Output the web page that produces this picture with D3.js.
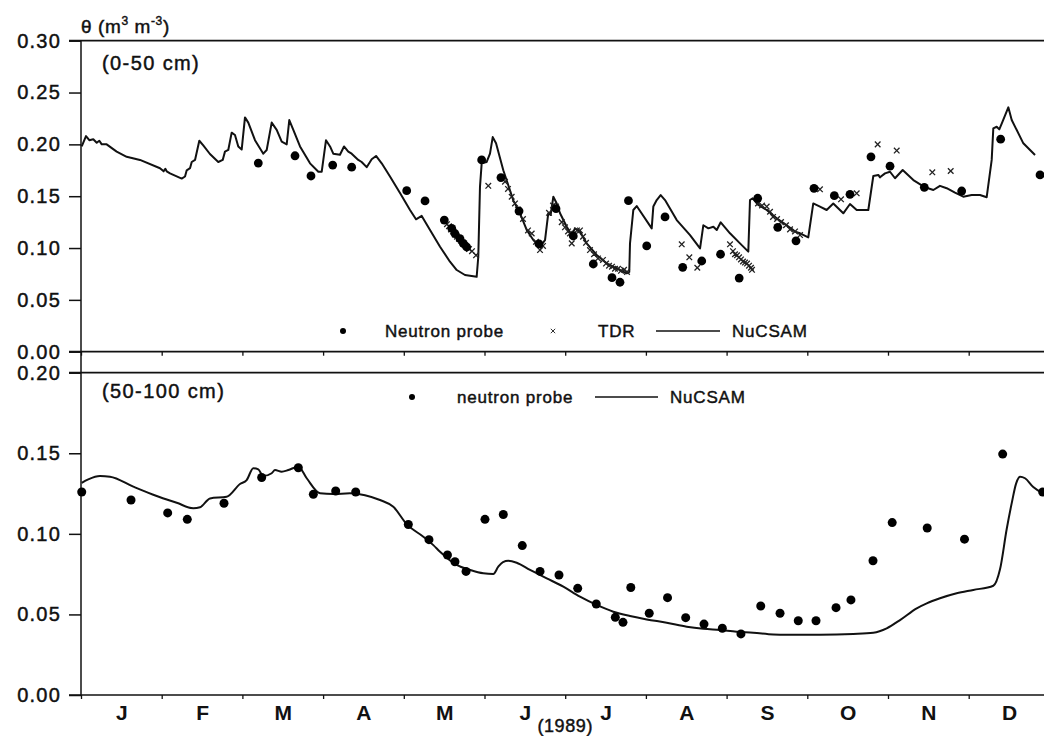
<!DOCTYPE html>
<html>
<head>
<meta charset="utf-8">
<script src="https://cdn.jsdelivr.net/npm/d3@7"></script>
<style>
  body { margin: 0; background: #fff; }
  svg { font-family: "Liberation Sans", Arial, sans-serif; }
</style>
</head>
<body>
<script>
/* CONSTANTS AND GLOBALS */
const width = 1044,
  height = 736;

// x is expressed in months since 1 Jan 1989 (0 = start of Jan, 12 = end of Dec)
const months = ["J", "F", "M", "A", "M", "J", "J", "A", "S", "O", "N", "D"];
const topTicks = [0, 0.05, 0.10, 0.15, 0.20, 0.25, 0.30];
const bottomTicks = [0, 0.05, 0.10, 0.15, 0.20];

/* 0-50 cm layer */
const topModel = [
  [0.009, 0.198], [0.062, 0.208], [0.103, 0.204], [0.152, 0.205], [0.195, 0.2016], [0.227, 0.2035],
  [0.257, 0.200], [0.318, 0.200], [0.442, 0.193], [0.566, 0.188], [0.731, 0.185], [0.979, 0.177],
  [1.024, 0.174], [1.045, 0.1765], [1.062, 0.174], [1.103, 0.172], [1.248, 0.167], [1.289, 0.169],
  [1.31, 0.175], [1.351, 0.177], [1.372, 0.183], [1.413, 0.185], [1.466, 0.2035], [1.515, 0.199],
  [1.598, 0.1907], [1.701, 0.183], [1.756, 0.185], [1.784, 0.193], [1.825, 0.1946], [1.867, 0.2113],
  [1.908, 0.209], [1.949, 0.198], [1.991, 0.195], [2.032, 0.226], [2.073, 0.221], [2.156, 0.204],
  [2.259, 0.191], [2.301, 0.1946], [2.363, 0.221], [2.425, 0.214], [2.487, 0.2026], [2.549, 0.200],
  [2.581, 0.2235], [2.631, 0.214], [2.714, 0.198], [2.838, 0.1817], [2.941, 0.1736], [2.983, 0.1736],
  [3.036, 0.204], [3.086, 0.198], [3.126, 0.191], [3.209, 0.190], [3.259, 0.198], [3.312, 0.193],
  [3.354, 0.191], [3.436, 0.185], [3.478, 0.183], [3.54, 0.178], [3.602, 0.1856], [3.656, 0.1888],
  [3.726, 0.1817], [3.829, 0.169], [3.953, 0.153], [4.077, 0.1367], [4.151, 0.1277], [4.222, 0.131],
  [4.325, 0.1174], [4.449, 0.1013], [4.572, 0.0868], [4.656, 0.0788], [4.758, 0.074], [4.903, 0.0723],
  [4.923, 0.0916], [4.944, 0.159], [4.965, 0.1817], [5.027, 0.183], [5.068, 0.191], [5.102, 0.207],
  [5.143, 0.201], [5.233, 0.175], [5.357, 0.146], [5.44, 0.1335], [5.523, 0.1174], [5.605, 0.1077],
  [5.688, 0.1013], [5.75, 0.1077], [5.79, 0.1335], [5.82, 0.132], [5.853, 0.1495], [5.895, 0.143],
  [5.936, 0.1335], [6.019, 0.1206], [6.081, 0.1126], [6.121, 0.119], [6.183, 0.1158], [6.266, 0.1045],
  [6.39, 0.0933], [6.514, 0.0853], [6.638, 0.0804], [6.762, 0.0756], [6.794, 0.077], [6.803, 0.1045],
  [6.844, 0.1367], [6.886, 0.1405], [7.072, 0.119], [7.092, 0.140], [7.134, 0.1463], [7.183, 0.1511],
  [7.237, 0.1463], [7.382, 0.127], [7.547, 0.1125], [7.671, 0.0997], [7.712, 0.122], [7.774, 0.119],
  [7.836, 0.1206], [7.878, 0.1174], [7.927, 0.1248], [8.042, 0.1142], [8.166, 0.1045], [8.269, 0.0965],
  [8.29, 0.1463], [8.323, 0.148], [8.393, 0.1415], [8.497, 0.1367], [8.621, 0.1287], [8.745, 0.122],
  [8.848, 0.1158], [8.91, 0.1142], [9.012, 0.1103], [9.074, 0.143], [9.157, 0.140], [9.24, 0.1367],
  [9.322, 0.143], [9.446, 0.1335], [9.529, 0.1425], [9.612, 0.1367], [9.756, 0.1367], [9.818, 0.1695],
  [9.88, 0.1705], [9.901, 0.1682], [9.963, 0.172], [10.025, 0.1736], [10.087, 0.1673], [10.182, 0.1753],
  [10.314, 0.1656], [10.459, 0.1586], [10.562, 0.156], [10.644, 0.160], [10.727, 0.1577], [10.83, 0.1534],
  [10.933, 0.1495], [11.037, 0.1511], [11.14, 0.1511], [11.223, 0.149], [11.285, 0.185], [11.305, 0.2155],
  [11.347, 0.217], [11.379, 0.2145], [11.409, 0.220], [11.491, 0.2357], [11.533, 0.2235], [11.677, 0.201],
  [11.822, 0.1897]
];

const topProbe = [
  [2.197, 0.182], [2.652, 0.189], [2.85, 0.1695], [3.119, 0.180], [3.354, 0.178], [4.036, 0.1553],
  [4.263, 0.1454], [4.502, 0.127], [4.594, 0.119], [4.634, 0.114], [4.696, 0.109], [4.737, 0.1045],
  [4.779, 0.101], [4.965, 0.185], [5.204, 0.168], [5.428, 0.1357], [5.675, 0.104], [5.886, 0.138],
  [6.10, 0.1116], [6.348, 0.0846], [6.58, 0.0714], [6.679, 0.067], [6.784, 0.1457], [7.01, 0.102],
  [7.237, 0.130], [7.456, 0.0814], [7.692, 0.0875], [7.925, 0.094], [8.156, 0.071], [8.385, 0.148],
  [8.634, 0.120], [8.86, 0.107], [9.083, 0.1576], [9.335, 0.1505], [9.529, 0.1518], [9.789, 0.188],
  [10.025, 0.179], [10.45, 0.1586], [10.913, 0.155], [11.396, 0.205], [11.884, 0.1705]
];

const topTdr = [
  [4.535, 0.123], [4.56, 0.121], [4.585, 0.118], [4.61, 0.116], [4.634, 0.113], [4.659, 0.111],
  [4.684, 0.109], [4.709, 0.107], [4.734, 0.105], [4.758, 0.103], [4.783, 0.101], [4.808, 0.099],
  [4.845, 0.097], [4.895, 0.093], [5.047, 0.160], [5.254, 0.164], [5.291, 0.157], [5.337, 0.1495],
  [5.378, 0.143], [5.415, 0.137], [5.477, 0.128], [5.539, 0.117], [5.585, 0.114], [5.638, 0.106],
  [5.688, 0.098], [5.725, 0.102], [5.799, 0.134], [5.849, 0.141], [5.886, 0.140], [5.957, 0.125],
  [5.997, 0.120], [6.035, 0.116], [6.059, 0.114], [6.081, 0.1045], [6.109, 0.112], [6.146, 0.117],
  [6.183, 0.117], [6.221, 0.111], [6.258, 0.105], [6.307, 0.098], [6.357, 0.094], [6.406, 0.090],
  [6.468, 0.0885], [6.506, 0.085], [6.543, 0.083], [6.58, 0.082], [6.617, 0.080], [6.654, 0.080],
  [6.691, 0.078], [6.729, 0.079], [6.766, 0.077], [7.444, 0.1036], [7.538, 0.091], [7.637, 0.081],
  [8.042, 0.1036], [8.079, 0.097], [8.104, 0.094], [8.129, 0.093], [8.154, 0.091], [8.178, 0.089],
  [8.203, 0.087], [8.228, 0.086], [8.253, 0.085], [8.278, 0.083], [8.302, 0.081], [8.315, 0.079],
  [8.389, 0.143], [8.439, 0.141], [8.497, 0.140], [8.538, 0.135], [8.575, 0.130], [8.625, 0.128],
  [8.674, 0.125], [8.736, 0.122], [8.786, 0.118], [8.848, 0.116], [8.91, 0.1125], [9.157, 0.1566],
  [9.418, 0.147], [9.612, 0.1528], [9.872, 0.200], [10.108, 0.194], [10.549, 0.173], [10.777, 0.1743]
];

/* 50-100 cm layer */
const bottomModel = [
  [0.009, 0.1317], [0.09, 0.1338], [0.235, 0.1359], [0.359, 0.1355], [0.648, 0.1293], [0.938, 0.1235],
  [1.186, 0.1193], [1.392, 0.1159], [1.475, 0.1165], [1.599, 0.122], [1.805, 0.123], [1.97, 0.1309],
  [2.053, 0.1334], [2.135, 0.1407], [2.197, 0.140], [2.259, 0.1359], [2.363, 0.1376], [2.404, 0.1396],
  [2.487, 0.1386], [2.569, 0.1396], [2.693, 0.1417], [2.797, 0.1345], [2.962, 0.1252], [3.126, 0.1247],
  [3.333, 0.1252], [3.519, 0.124], [3.705, 0.121], [3.87, 0.1168], [4.036, 0.106], [4.242, 0.0982],
  [4.366, 0.093], [4.449, 0.0889], [4.655, 0.0807], [4.82, 0.0776], [4.985, 0.0755], [5.109, 0.0751],
  [5.171, 0.0796], [5.229, 0.0825], [5.295, 0.0833], [5.399, 0.0821], [5.564, 0.0776], [5.771, 0.0724],
  [5.977, 0.0672], [6.183, 0.061], [6.39, 0.0559], [6.596, 0.0517], [6.803, 0.049], [7.01, 0.0469],
  [7.258, 0.0449], [7.506, 0.0424], [7.711, 0.0411], [7.918, 0.0403], [8.125, 0.0393], [8.331, 0.0387],
  [8.579, 0.0376], [8.745, 0.0374], [9.157, 0.0374], [9.57, 0.0379], [9.818, 0.0387], [9.984, 0.0414],
  [10.149, 0.0465], [10.356, 0.0538], [10.48, 0.0569], [10.644, 0.060], [10.851, 0.0631], [11.057, 0.0652],
  [11.305, 0.0678], [11.388, 0.078], [11.471, 0.103], [11.537, 0.120], [11.586, 0.131], [11.636, 0.1355],
  [11.698, 0.1345], [11.80, 0.129], [11.924, 0.125]
];

const bottomProbe = [
  [0.009, 0.126], [0.62, 0.121], [1.074, 0.113], [1.317, 0.109], [1.772, 0.119], [2.239, 0.135],
  [2.693, 0.141], [2.879, 0.1245], [3.156, 0.1266], [3.404, 0.126], [4.056, 0.1058], [4.312, 0.0964],
  [4.541, 0.0869], [4.634, 0.0827], [4.771, 0.0767], [5.006, 0.109], [5.233, 0.112], [5.468, 0.0927],
  [5.688, 0.0767], [5.923, 0.0745], [6.155, 0.0662], [6.385, 0.0565], [6.621, 0.0482], [6.716, 0.0451],
  [6.813, 0.0667], [7.041, 0.0507], [7.268, 0.0604], [7.493, 0.048], [7.72, 0.044], [7.947, 0.0414],
  [8.178, 0.0379], [8.423, 0.0552], [8.662, 0.0507], [8.888, 0.0461], [9.108, 0.0461], [9.356, 0.0542],
  [9.541, 0.059], [9.814, 0.0833], [10.052, 0.107], [10.486, 0.1036], [10.948, 0.0967], [11.421, 0.1495],
  [11.917, 0.126]
];

const ink = "#111";

// Creating the SVG container
const svg = d3.select("body")
  .append("svg")
  .attr("width", width)
  .attr("height", height);

// Scales: one shared time axis, two stacked y panels
const x = d3.scaleLinear().domain([0, 12]).range([81, 1049.4]);
const yTop = d3.scaleLinear().domain([0, 0.30]).range([351.7, 40.7]);
const yBot = d3.scaleLinear().domain([0, 0.20]).range([695, 372.7]);

// scanned text looks a little heavier than plain regular weight
const heavy = sel => sel.attr("stroke", ink).attr("stroke-width", 0.45);

// Y axes
function yAxis(scale, ticks) {
  return g => g
    .attr("transform", `translate(${x(0)},0)`)
    .call(d3.axisLeft(scale).tickValues(ticks).tickSize(12).tickPadding(8).tickFormat(d3.format(".2f")))
    .call(g => g.select(".domain").remove())
    .call(g => g.selectAll(".tick line").attr("stroke", ink).attr("stroke-width", 1.5))
    .call(g => g.selectAll(".tick text")
      .attr("fill", ink)
      .attr("font-size", "20px")
      .attr("letter-spacing", "1.2px")
      .attr("font-family", "Liberation Sans, Arial, sans-serif")
      .call(heavy));
}
svg.append("g").call(yAxis(yTop, topTicks));
svg.append("g").call(yAxis(yBot, bottomTicks));

// Frame lines: top / bottom of each panel and the shared left axis
[yTop(0.30), yTop(0), yBot(0.20), yBot(0)].forEach(yy => {
  svg.append("line")
    .attr("x1", x(0) - 12).attr("x2", x(12))
    .attr("y1", yy).attr("y2", yy)
    .attr("stroke", ink).attr("stroke-width", 1.7);
});
svg.append("line")
  .attr("x1", x(0)).attr("x2", x(0))
  .attr("y1", yTop(0.30)).attr("y2", yBot(0))
  .attr("stroke", ink).attr("stroke-width", 1.5);

// Month boundary ticks on both x axes
[yTop(0), yBot(0)].forEach(yy => {
  svg.append("g")
    .attr("transform", `translate(0,${yy})`)
    .call(d3.axisBottom(x).tickValues(d3.range(12)).tickSize(4).tickFormat(""))
    .call(g => g.select(".domain").remove())
    .call(g => g.selectAll(".tick line").attr("stroke", ink).attr("stroke-width", 1.3));
});

// Month letters, centred in each month
svg.append("g")
  .attr("transform", `translate(0,${yBot(0)})`)
  .call(d3.axisBottom(x).tickValues(d3.range(12).map(i => i + 0.5)).tickSize(0).tickPadding(10)
    .tickFormat((d, i) => months[i]))
  .call(g => g.select(".domain").remove())
  .call(g => g.selectAll(".tick text")
    .attr("fill", ink)
    .attr("font-size", "21px")
    .attr("font-weight", "bold")
    .attr("font-family", "Liberation Sans, Arial, sans-serif"));

svg.append("text")
  .attr("x", x(6)).attr("y", 732)
  .attr("text-anchor", "middle")
  .attr("font-size", "18px").attr("letter-spacing", "0.6px")
  .attr("fill", ink)
  .call(heavy)
  .text("(1989)");

// Axis title
const title = svg.append("text")
  .attr("x", x(0)).attr("y", 33)
  .attr("font-size", "19px").attr("letter-spacing", "0.6px")
  .attr("fill", ink)
  .call(heavy);
title.append("tspan").text("θ (m");
title.append("tspan").attr("font-size", "12px").attr("dy", -8).text("3");
title.append("tspan").attr("dy", 8).text(" m");
title.append("tspan").attr("font-size", "12px").attr("dy", -8).text("-3");
title.append("tspan").attr("dy", 8).text(")");

// Panel labels
svg.append("text").attr("x", 102).attr("y", 70)
  .attr("font-size", "20px").attr("letter-spacing", "1.4px").attr("fill", ink)
  .call(heavy)
  .text("(0-50 cm)");
svg.append("text").attr("x", 102).attr("y", 398)
  .attr("font-size", "20px").attr("letter-spacing", "1.4px").attr("fill", ink)
  .call(heavy)
  .text("(50-100 cm)");

// Lines
const topLine = d3.line().x(d => x(d[0])).y(d => yTop(d[1]));
const botLine = d3.line().x(d => x(d[0])).y(d => yBot(d[1])).curve(d3.curveMonotoneX);

svg.append("path")
  .datum(topModel)
  .attr("d", topLine)
  .attr("fill", "none").attr("stroke", ink).attr("stroke-width", 2).attr("stroke-linejoin", "round");

svg.append("path")
  .datum(bottomModel)
  .attr("d", botLine)
  .attr("fill", "none").attr("stroke", ink).attr("stroke-width", 2).attr("stroke-linejoin", "round");

// TDR crosses
const cross = s => `M${-s},${-s}L${s},${s}M${-s},${s}L${s},${-s}`;
svg.append("g").selectAll("path")
  .data(topTdr)
  .enter()
  .append("path")
  .attr("transform", d => `translate(${x(d[0])},${yTop(d[1])})`)
  .attr("d", cross(2.8))
  .attr("stroke", "#222").attr("stroke-width", 1.3).attr("fill", "none");

// Neutron probe dots
svg.append("g").selectAll("circle")
  .data(topProbe)
  .enter()
  .append("circle")
  .attr("cx", d => x(d[0])).attr("cy", d => yTop(d[1]))
  .attr("r", 4.4).attr("fill", "#000");

svg.append("g").selectAll("circle")
  .data(bottomProbe)
  .enter()
  .append("circle")
  .attr("cx", d => x(d[0])).attr("cy", d => yBot(d[1]))
  .attr("r", 4.5).attr("fill", "#000");

// Legends
function legendText(xx, yy, str) {
  svg.append("text").attr("x", xx).attr("y", yy)
    .attr("font-size", "17px").attr("letter-spacing", "0.8px").attr("fill", ink)
    .call(heavy)
    .text(str);
}
// top panel
svg.append("circle").attr("cx", 343).attr("cy", 331).attr("r", 3).attr("fill", "#000");
legendText(385, 337, "Neutron probe");
svg.append("path").attr("transform", "translate(553,331)").attr("d", cross(2.2))
  .attr("stroke", "#333").attr("stroke-width", 1);
legendText(598, 337, "TDR");
svg.append("line").attr("x1", 656).attr("x2", 720).attr("y1", 331).attr("y2", 331)
  .attr("stroke", ink).attr("stroke-width", 1.4);
legendText(732, 337, "NuCSAM");
// bottom panel
svg.append("circle").attr("cx", 412).attr("cy", 397).attr("r", 3).attr("fill", "#000");
legendText(457, 403, "neutron probe");
svg.append("line").attr("x1", 595).attr("x2", 658).attr("y1", 397).attr("y2", 397)
  .attr("stroke", ink).attr("stroke-width", 1.4);
legendText(670, 403, "NuCSAM");
</script>
</body>
</html>
